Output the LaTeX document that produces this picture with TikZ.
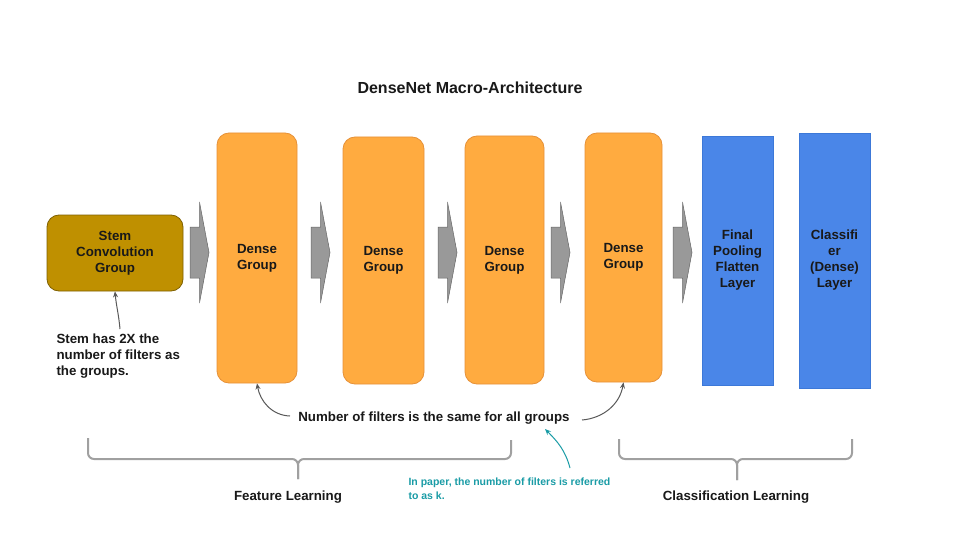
\documentclass[tikz,border=0pt]{standalone}
\usepackage{fontspec}
\setmainfont{Liberation Sans}
\usetikzlibrary{arrows.meta}
\definecolor{orangefill}{HTML}{FFAB40}
\definecolor{orangeline}{HTML}{E69138}
\definecolor{bluefill}{HTML}{4A86E8}
\definecolor{blueline}{HTML}{3C78D8}
\definecolor{stemfill}{HTML}{BF9000}
\definecolor{stemline}{HTML}{7F6000}
\definecolor{arrowfill}{HTML}{999999}
\definecolor{arrowline}{HTML}{666666}
\definecolor{bracegray}{HTML}{A0A0A0}
\definecolor{annotgray}{HTML}{595959}
\definecolor{tealtext}{HTML}{1A9CA6}
\tikzset{
  lbl/.style={font=\fontsize{13.3}{16}\selectfont\bfseries, align=center, text=black!90},
  densebox/.style={lbl, draw=orangeline, fill=orangefill, rounded corners=12pt, line width=0.8pt, inner sep=0pt},
  bluebox/.style={lbl, draw=blueline, fill=bluefill, line width=0.8pt, inner sep=0pt},
  stembox/.style={lbl, draw=stemline, fill=stemfill, rounded corners=12pt, line width=0.8pt, inner sep=0pt},
  blockarr/.style={draw=arrowline, fill=arrowfill, line width=0.5pt},
  bracestyle/.style={draw=bracegray, line width=2pt, rounded corners=6pt},
  annot/.style={draw=annotgray, line width=1pt, -{Stealth[length=6pt,width=5pt]}},
  tealannot/.style={draw=tealtext, line width=1pt, -{Stealth[length=6pt,width=5pt]}}
}
\newcommand{\blockarrow}[1]{%
  \path[blockarr] (#1,227) -- (#1+9.5,227) -- (#1+9.5,202) -- (#1+19,252.5) -- (#1+9.5,303) -- (#1+9.5,278) -- (#1,278) -- cycle;}
\begin{document}
\begin{tikzpicture}[x=1pt,y=-1pt]
\useasboundingbox (0,0) rectangle (960,540);
\fill[white] (0,0) rectangle (960,540);

\node[lbl, font=\fontsize{16}{18}\selectfont\bfseries] (title) at (470,88) {DenseNet Macro-Architecture};

\node[stembox, minimum width=136pt, minimum height=76pt] (stem) at (115,253) {Stem\\Convolution\\Group};
\node[densebox, minimum width=80pt, minimum height=250pt] (d1) at (257,258) {Dense\\Group};
\node[densebox, minimum width=81pt, minimum height=247pt] (d2) at (383.5,260.5) {Dense\\Group};
\node[densebox, minimum width=79pt, minimum height=248pt] (d3) at (504.5,260) {Dense\\Group};
\node[densebox, minimum width=77pt, minimum height=249pt] (d4) at (623.5,257.5) {Dense\\Group};
\node[bluebox, minimum width=71pt, minimum height=249pt] (b1) at (737.5,260.5) {Final\\Pooling\\Flatten\\Layer};
\node[bluebox, minimum width=71pt, minimum height=255pt] (b2) at (834.5,260.5) {Classifi\\er\\(Dense)\\Layer};

\blockarrow{190}
\blockarrow{311}
\blockarrow{438}
\blockarrow{551}
\blockarrow{673}

\node[lbl, align=left, anchor=north west] (stemnote) at (53,330) {Stem has 2X the\\number of filters as\\the groups.};
\coordinate (stemnotetop) at (120,329);
\draw[annot] (stemnotetop) to[out=95,in=-85] (stem.south);

\node[lbl] (samenote) at (434,418) {Number of filters is the same for all groups};
\coordinate (sameL) at (290,416);
\coordinate (sameR) at (582,420);
\draw[annot] (sameL) to[out=178,in=-80] (d1.south);
\draw[annot] (sameR) to[out=5,in=-100] (d4.south);

\node[font=\fontsize{10.5}{14}\selectfont\bfseries, text=tealtext, align=left, anchor=north west] (tealnote) at (405,474) {In paper, the number of filters is referred\\to as k.};
\coordinate (tealstart) at (570,468);
\coordinate (tealend) at (545,429);
\draw[tealannot] (tealstart) to[out=105,in=-45] (tealend);

\path[bracestyle] (88,438) |- (298,459) -- (298,479);
\path[bracestyle] (511,440) |- (298,459) -- (298,479);
\path[bracestyle] (619,439) |- (737,459) -- (737,480);
\path[bracestyle] (852,439) |- (737,459) -- (737,480);

\node[lbl] (featlbl) at (288,497) {Feature Learning};
\node[lbl] (classlbl) at (736,497) {Classification Learning};
\end{tikzpicture}
\end{document}
